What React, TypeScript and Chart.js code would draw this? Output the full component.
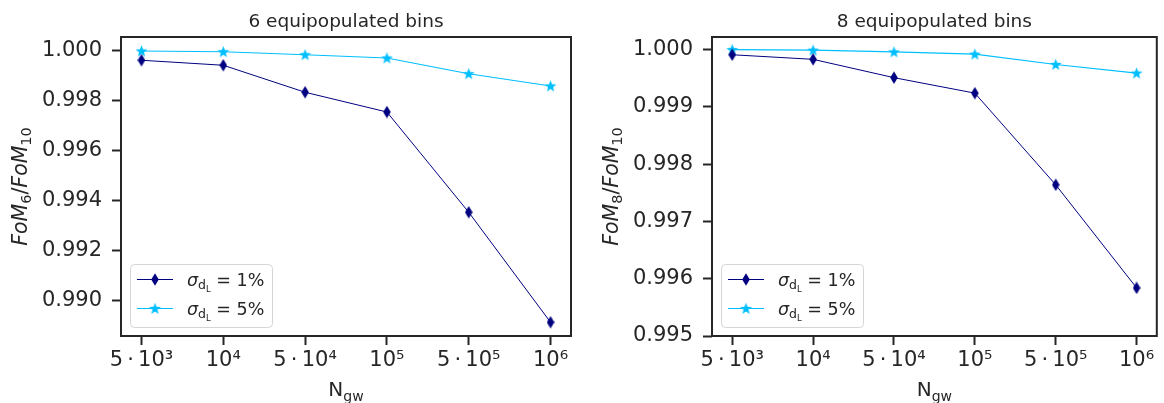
import React, { useEffect, useRef } from "react";
import { Chart, registerables } from "chart.js";

Chart.register(...registerables);

const categories = ["5\u2009·\u200910³", "10⁴", "5\u2009·\u200910⁴", "10⁵", "5\u2009·\u200910⁵", "10⁶"];
const bins6Sigma1 = [0.99962, 0.99942, 0.99834, 0.99755, 0.99354, 0.98914];
const bins6Sigma5 = [0.99999, 0.99996, 0.99984, 0.99971, 0.99908, 0.99859];
const bins8Sigma1 = [0.99991, 0.99983, 0.99951, 0.99924, 0.99764, 0.99584];
const bins8Sigma5 = [1.0, 0.99999, 0.99996, 0.99992, 0.99974, 0.99959];
const ticks6 = [0.99, 0.992, 0.994, 0.996, 0.998, 1.0];
const ticks8 = [0.995, 0.996, 0.997, 0.998, 0.999, 1.0];
const legendValues = ["1%", "5%"];

const FONT = "DejaVu Sans";
const TEXT = "#262626";
const DARK = "#000080";
const LIGHT = "#00BFFF";

function makeDiamond(): HTMLCanvasElement {
  const c = document.createElement("canvas");
  c.width = 8;
  c.height = 13;
  const g = c.getContext("2d")!;
  g.fillStyle = DARK;
  g.beginPath();
  g.moveTo(4, 0.2);
  g.lineTo(7.8, 6.5);
  g.lineTo(4, 12.8);
  g.lineTo(0.2, 6.5);
  g.closePath();
  g.fill();
  return c;
}

function makeStar(): HTMLCanvasElement {
  const c = document.createElement("canvas");
  c.width = 13;
  c.height = 13;
  const g = c.getContext("2d")!;
  g.fillStyle = LIGHT;
  g.beginPath();
  const R = 6.2;
  const r = 2.6;
  for (let i = 0; i < 10; i++) {
    const ang = -Math.PI / 2 + (i * Math.PI) / 5;
    const rad = i % 2 === 0 ? R : r;
    const px = 6.5 + rad * Math.cos(ang);
    const py = 6.9 + rad * Math.sin(ang);
    if (i === 0) g.moveTo(px, py);
    else g.lineTo(px, py);
  }
  g.closePath();
  g.fill();
  return c;
}

type Run = { t: string; font: string; dy: number };

function runsWidth(ctx: CanvasRenderingContext2D, runs: Run[]) {
  let w = 0;
  for (const r of runs) {
    ctx.font = r.font;
    w += ctx.measureText(r.t).width;
  }
  return w;
}

function drawRuns(ctx: CanvasRenderingContext2D, x: number, y: number, runs: Run[]) {
  let cx = x;
  ctx.textBaseline = "alphabetic";
  ctx.textAlign = "left";
  for (const r of runs) {
    ctx.font = r.font;
    ctx.fillText(r.t, cx, y + r.dy);
    cx += ctx.measureText(r.t).width;
  }
}

interface PanelProps {
  nBins: string;
  s1: number[];
  s5: number[];
  yTicks: number[];
  yMin: number;
  yMax: number;
  yAxisWidth: number;
  padRight: number;
  yLabelX: number;
}

function Panel(props: PanelProps) {
  const ref = useRef<HTMLCanvasElement>(null);
  useEffect(() => {
    const canvas = ref.current!;
    const diamond = makeDiamond();
    const star = makeStar();
    const decor = {
      id: "decor",
      beforeDatasetsDraw(chart: any) {
        const { ctx, chartArea } = chart;
        ctx.save();
        ctx.strokeStyle = TEXT;
        ctx.lineWidth = 2;
        ctx.strokeRect(chartArea.left, chartArea.top, chartArea.right - chartArea.left, chartArea.bottom - chartArea.top);
        ctx.restore();
      },
      afterDraw(chart: any) {
        const { ctx, chartArea } = chart;
        const cxm = (chartArea.left + chartArea.right) / 2;
        ctx.save();
        ctx.fillStyle = TEXT;
        // title
        ctx.font = `18.5px ${FONT}`;
        ctx.textAlign = "center";
        ctx.textBaseline = "alphabetic";
        ctx.fillText(`${props.nBins} equipopulated bins`, cxm, 26.5);
        // x label
        const xRuns: Run[] = [
          { t: "N", font: `20px ${FONT}`, dy: 0 },
          { t: "gw", font: `14px ${FONT}`, dy: 4.5 },
        ];
        const xw = runsWidth(ctx, xRuns);
        drawRuns(ctx, cxm - xw / 2, 396, xRuns);
        // y label
        const yRuns: Run[] = [
          { t: "FoM", font: `italic 20.5px ${FONT}`, dy: 0 },
          { t: props.nBins, font: `14.5px ${FONT}`, dy: 4 },
          { t: "/", font: `20.5px ${FONT}`, dy: 0 },
          { t: "FoM", font: `italic 20.5px ${FONT}`, dy: 0 },
          { t: "10", font: `14.5px ${FONT}`, dy: 4 },
        ];
        const yw = runsWidth(ctx, yRuns);
        ctx.save();
        ctx.translate(props.yLabelX, (chartArea.top + chartArea.bottom) / 2);
        ctx.rotate(-Math.PI / 2);
        drawRuns(ctx, -yw / 2, 0, yRuns);
        ctx.restore();
        // legend
        const bx = chartArea.left + 9;
        const by = 264;
        const bw = 142;
        const bh = 63;
        ctx.beginPath();
        ctx.roundRect(bx + 0.5, by + 0.5, bw, bh, 4);
        ctx.fillStyle = "rgba(255,255,255,0.8)";
        ctx.fill();
        ctx.strokeStyle = "#d5d5d5";
        ctx.lineWidth = 1;
        ctx.stroke();
        const rows = [
          { color: DARK, img: diamond, lw: 1, label: legendValues[0] },
          { color: LIGHT, img: star, lw: 1.2, label: legendValues[1] },
        ];
        rows.forEach((row, i) => {
          const ry = 279.5 + i * 29;
          ctx.strokeStyle = row.color;
          ctx.lineWidth = row.lw;
          ctx.beginPath();
          ctx.moveTo(bx + 7, ry);
          ctx.lineTo(bx + 43, ry);
          ctx.stroke();
          ctx.drawImage(row.img, bx + 25 - row.img.width / 2, ry - row.img.height / 2);
          ctx.fillStyle = TEXT;
          const lr: Run[] = [
            { t: "σ", font: `italic 17.5px ${FONT}`, dy: 0 },
            { t: "d", font: `12.5px ${FONT}`, dy: 3.5 },
            { t: "L", font: `8.5px ${FONT}`, dy: 6 },
            { t: " = " + row.label, font: `17.5px ${FONT}`, dy: 0 },
          ];
          drawRuns(ctx, bx + 57, ry + 6, lr);
        });
        ctx.restore();
      },
    };

    const toPts = (arr: number[]) => arr.map((v, i) => ({ x: i, y: v }));
    const chart = new Chart(canvas, {
      type: "scatter",
      data: {
        datasets: [
          {
            label: "σ = 1%",
            data: toPts(props.s1),
            showLine: true,
            borderColor: DARK,
            borderWidth: 1,
            pointStyle: diamond as any,
            pointRadius: 6,
          },
          {
            label: "σ = 5%",
            data: toPts(props.s5),
            showLine: true,
            borderColor: LIGHT,
            borderWidth: 1.2,
            pointStyle: star as any,
            pointRadius: 6,
          },
        ],
      },
      options: {
        animation: false,
        responsive: false,
        devicePixelRatio: 1,
        layout: { padding: { top: 37, right: props.padRight, left: 0, bottom: 0 } },
        plugins: { legend: { display: false }, title: { display: false }, tooltip: { enabled: false } },
        scales: {
          x: {
            type: "linear",
            min: -0.25,
            max: 5.25,
            border: { display: false },
            grid: { drawOnChartArea: false, drawTicks: true, tickLength: 9, tickWidth: 2, tickColor: TEXT },
            ticks: {
              color: TEXT,
              font: { family: FONT, size: 21 },
              padding: 3,
              maxRotation: 0,
              autoSkip: false,
              callback: (v: any) => categories[Math.round(Number(v))] ?? "",
            },
            afterBuildTicks: (scale: any) => {
              scale.ticks = categories.map((_, i) => ({ value: i }));
            },
            afterFit: (scale: any) => {
              scale.height = 67;
            },
          },
          y: {
            type: "linear",
            min: props.yMin,
            max: props.yMax,
            border: { display: false },
            grid: { drawOnChartArea: false, drawTicks: true, tickLength: 9, tickWidth: 2, tickColor: TEXT },
            ticks: {
              color: TEXT,
              font: { family: FONT, size: 21 },
              padding: 10,
              callback: (v: any) => Number(v).toFixed(3),
            },
            afterBuildTicks: (scale: any) => {
              scale.ticks = props.yTicks.map((v) => ({ value: v }));
            },
            afterFit: (scale: any) => {
              scale.width = props.yAxisWidth;
            },
          },
        },
      },
      plugins: [decor],
    });
    return () => chart.destroy();
  }, []);
  return <canvas ref={ref} width={582} height={403} style={{ display: "block" }} />;
}

export default function App() {
  return (
    <div style={{ position: "fixed", left: 0, top: 0, width: 1164, height: 403, background: "#fff", display: "flex" }}>
      <Panel nBins="6" s1={bins6Sigma1} s5={bins6Sigma5} yTicks={ticks6} yMin={0.98859} yMax={1.00055} yAxisWidth={121} padRight={11} yLabelX={27} />
      <Panel nBins="8" s1={bins8Sigma1} s5={bins8Sigma5} yTicks={ticks8} yMin={0.995} yMax={1.00022} yAxisWidth={130} padRight={2} yLabelX={36} />
    </div>
  );
}
